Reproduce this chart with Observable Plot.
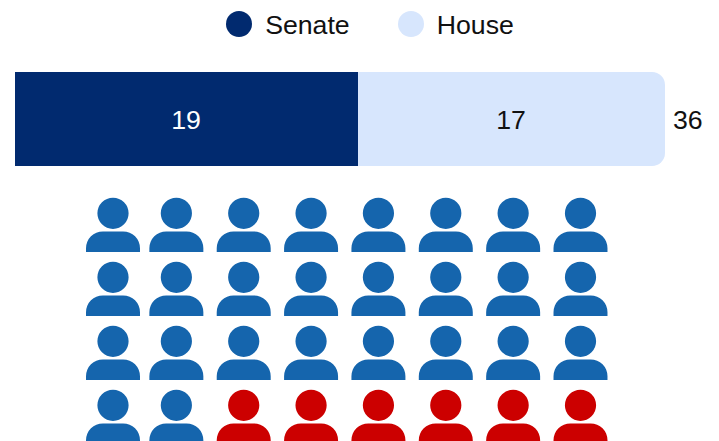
<!doctype html>
<html>
<head>
<meta charset="utf-8">
<script src="https://cdn.jsdelivr.net/npm/d3@7"></script>
<script src="https://cdn.jsdelivr.net/npm/@observablehq/plot@0.6"></script>
<style>
html,body{margin:0;padding:0;background:#fff;overflow:hidden}
body{width:719px;height:441px;font-family:"Liberation Sans",Arial,sans-serif;color:#111}
#legend{display:flex;justify-content:center;align-items:center;height:48px;padding-left:21px;box-sizing:border-box;font-size:26.7px}
#legend .item{display:flex;align-items:center;margin:0 24px}
#legend .item span{position:relative;top:1px}
#legend .sw{width:26px;height:26px;border-radius:50%;margin-right:13px}
svg{display:block}
</style>
</head>
<body>
<div id="legend"></div>
<div id="bar"></div>
<div id="people"></div>
<script>
const chambers = ["Senate", "House"];
const seats = [19, 17];
const chamberColors = ["#012a6f", "#d7e6fd"];
const labelColors = ["#ffffff", "#111111"];
const total = 36;

const partyCounts = [26, 6];
const partyColors = ["#1565ad", "#cc0000"];
const columns = [0, 1, 2, 3, 4, 5, 6, 7];
const rows = [0, 1, 2, 3];

// Legend
const legend = d3.select("#legend");
chambers.forEach((c, i) => {
  const it = legend.append("div").attr("class", "item");
  it.append("div").attr("class", "sw").style("background", chamberColors[i]);
  it.append("span").text(c);
});

// Stacked bar
const ends = Array.from(d3.cumsum(seats));
const segments = chambers.map((c, i) => ({
  chamber: c,
  value: seats[i],
  x1: i ? ends[i - 1] : 0,
  x2: ends[i],
  color: chamberColors[i],
  label: labelColors[i]
}));
const barPlot = Plot.plot({
  width: 719, height: 140, margin: 0,
  x: {domain: [0, total], range: [15, 665], axis: null},
  y: {domain: ["Seats"], range: [24, 118], padding: 0, axis: null},
  marks: [
    Plot.barX(segments.slice(0, 1), {x1: "x1", x2: "x2", y: () => "Seats", fill: "color"}),
    Plot.barX(segments.slice(1), {x1: "x1", x2: "x2", y: () => "Seats", fill: "color", rx2: 13}),
    Plot.text(segments, {x: d => (d.x1 + d.x2) / 2, y: () => "Seats", text: d => String(d.value), fill: "label", fontSize: 26.7, dx: -1, dy: 1, fontFamily: "Liberation Sans"}),
    Plot.text([total], {x: d => d, y: () => "Seats", text: d => String(d), dx: 7.5, dy: 1, textAnchor: "start", fill: "#111", fontSize: 26.7, fontFamily: "Liberation Sans"})
  ]
});
document.getElementById("bar").append(barPlot);

// Person glyph: head circle plus a round-shouldered body
const person = {
  draw(ctx, size) {
    const r = Math.sqrt(size / Math.PI);
    ctx.moveTo(r, 0);
    ctx.arc(0, 0, r, 0, 2 * Math.PI);
    ctx.closePath();
    const w = 1.73 * r, t = 1.16 * r, b = 2.48 * r, c = 1.08 * r;
    ctx.moveTo(-w, b);
    ctx.lineTo(-w, t + c);
    ctx.arc(-w + c, t + c, c, Math.PI, 1.5 * Math.PI);
    ctx.lineTo(w - c, t);
    ctx.arc(w - c, t + c, c, 1.5 * Math.PI, 2 * Math.PI);
    ctx.lineTo(w, b);
    ctx.closePath();
  }
};
const colorOf = partyCounts.flatMap((n, i) => d3.range(n).map(() => partyColors[i]));
const people = rows.flatMap((row, i) => columns.map((col, j) => ({
  row, col, color: colorOf[i * columns.length + j]
})));
const peoplePlot = Plot.plot({
  width: 719, height: 253, margin: 0,
  x: {type: "point", domain: columns, range: [108.5, 580], padding: 0, round: false, axis: null},
  y: {type: "point", domain: rows, range: [24.8, 216.8], padding: 0, round: false, axis: null},
  marks: [
    Plot.dot(people.filter(d => d.col === 0), {x: "col", y: "row", r: 15.6, symbol: person, fill: "color", dx: 4}),
    Plot.dot(people.filter(d => d.col !== 0), {x: "col", y: "row", r: 15.6, symbol: person, fill: "color"})
  ]
});
document.getElementById("people").append(peoplePlot);
</script>
</body>
</html>
